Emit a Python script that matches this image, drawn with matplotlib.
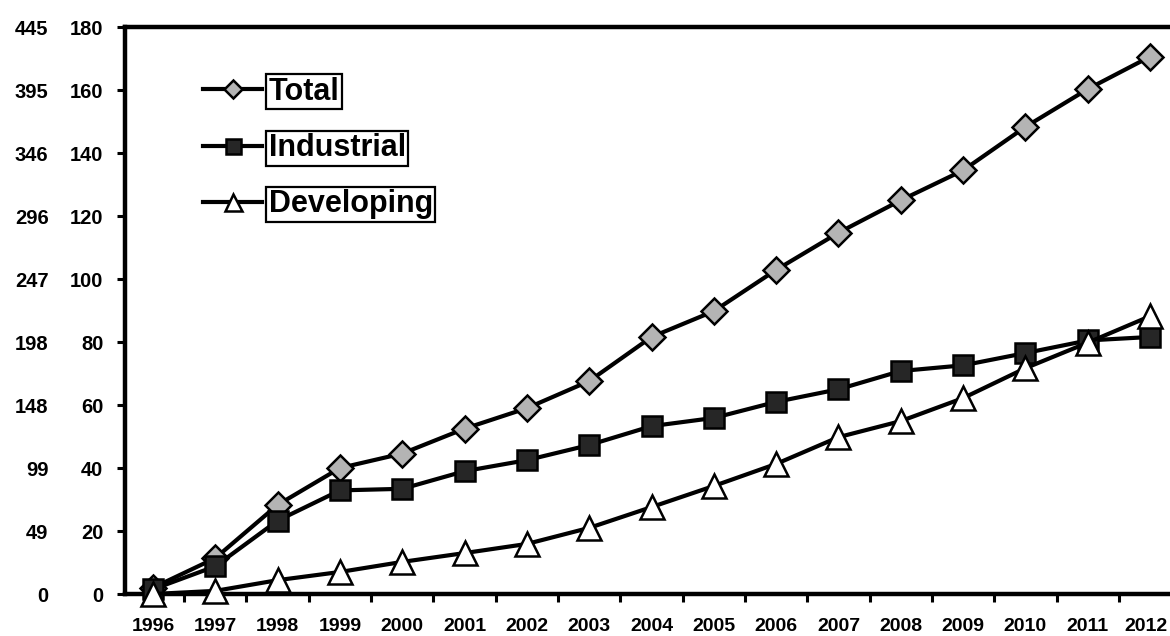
import matplotlib
matplotlib.use("Agg")
import matplotlib.pyplot as plt
import matplotlib.transforms as mtransforms
import numpy as np

# data
years = list(range(1996, 2013))
total = [2, 11.4, 28.3, 40, 44.6, 52.5, 59, 67.6, 81.6, 89.8, 102.9, 114.7, 125, 134.5, 148.3, 160.3, 170.6]
industrial = [1.5, 8.8, 23.3, 32.9, 33.4, 39, 42.5, 47.3, 53.3, 55.9, 61, 65, 70.8, 72.6, 76.5, 80.5, 81.6]
developing = [0, 1, 4.4, 7, 10.2, 13, 15.9, 21, 27.6, 34.3, 41.3, 49.8, 54.9, 62.2, 71.7, 79.8, 88.2]

inner_ticks = [0, 20, 40, 60, 80, 100, 120, 140, 160, 180]
outer_labels = ["0", "49", "99", "148", "198", "247", "296", "346", "395", "445"]

plt.rcParams["font.family"] = ["Liberation Sans", "DejaVu Sans"]
plt.rcParams["font.weight"] = "bold"

fig = plt.figure(figsize=(11.7, 6.36), dpi=100)
ax = fig.add_axes([0.1068, 0.066, 0.8932, 0.8915])

lw = 3.0
ax.plot(years, total, "-", color="black", lw=lw, marker="D", ms=13,
        mfc="#b4b4b4", mec="black", mew=1.8, clip_on=False, label="Total", zorder=3)
ax.plot(years, industrial, "-", color="black", lw=lw, marker="s", ms=15,
        mfc="#262626", mec="black", mew=1.8, clip_on=False, label="Industrial", zorder=3)
ax.plot(years, developing, "-", color="black", lw=lw, marker="^", ms=17,
        mfc="white", mec="black", mew=1.8, clip_on=False, label="Developing", zorder=4)

ax.set_xlim(1995.55, 2012.32)
ax.set_ylim(0, 180)

for side in ["top", "left", "bottom"]:
    ax.spines[side].set_linewidth(3.2)
ax.spines["right"].set_visible(False)

ax.set_yticks(inner_ticks)
ax.tick_params(axis="y", direction="out", length=6, width=2.2, pad=9.5, labelsize=14.5)
ax.set_xticks(years)
ax.set_xticks(np.arange(1996.5, 2012, 1.0), minor=True)
ax.tick_params(axis="x", which="major", length=0, pad=17, labelsize=14)
ax.tick_params(axis="x", which="minor", direction="out", length=6, width=2.2)

# keep the last year label inside the picture
fig.canvas.draw()
last = ax.get_xticklabels()[-1]
last.set_transform(last.get_transform() + mtransforms.ScaledTranslation(-4 / 100, 0, fig.dpi_scale_trans))

# outer (second) scale on the left
sec = ax.secondary_yaxis("left")
sec.set_yticks(inner_ticks, labels=outer_labels)
sec.tick_params(length=0, pad=55, labelsize=14.5)
sec.spines["left"].set_visible(False)

leg = ax.legend(loc="upper left", bbox_to_anchor=(0.0746, 0.912), frameon=False,
                fontsize=22, handlelength=1.95, handletextpad=0.2, labelspacing=0.86,
                borderpad=0, borderaxespad=0, markerscale=0.72)
for t in leg.get_texts():
    t.set_bbox(dict(boxstyle="square,pad=0.08", facecolor="white", edgecolor="black", linewidth=1.6))

fig.savefig("out.png", dpi=100)
